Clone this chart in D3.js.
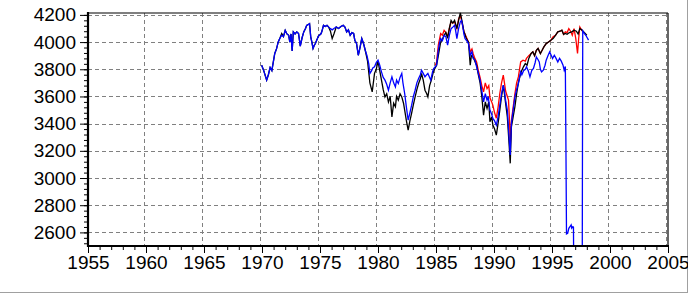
<!DOCTYPE html>
<html>
<head>
<meta charset="utf-8">
<script src="https://cdn.jsdelivr.net/npm/d3@7"></script>
<style>
  body { margin: 0; background: #fff; }
  svg { display: block; }
  .tick text { font-family: "Liberation Sans", Arial, sans-serif; font-size: 19px; fill: #000; }
</style>
</head>
<body>
<svg id="chart" width="688" height="294"></svg>
<script>
// year ticks and value ticks
var yearTicks = [1955, 1960, 1965, 1970, 1975, 1980, 1985, 1990, 1995, 2000, 2005]
var valueTicks = [2600, 2800, 3000, 3200, 3400, 3600, 3800, 4000, 4200]

// [year, value] pairs
var blackSeries = [
  [1969.97,3830],[1970.15,3790],[1970.4,3720],[1970.55,3760],[1970.7,3813],[1970.85,3790],[1971.1,3916],[1971.25,3950],
  [1971.4,4001],[1971.55,4030],[1971.7,4063],[1971.85,4040],[1972.0,4087],[1972.15,4060],[1972.3,4050],[1972.4,4000],
  [1972.5,4060],[1972.6,3935],[1972.7,4075],[1972.85,4060],[1973.0,4075],[1973.15,4063],[1973.3,3970],[1973.45,4030],
  [1973.6,4075],[1973.75,4100],[1973.85,4123],[1974.0,4130],[1974.1,4136],[1974.2,4039],[1974.3,4000],[1974.4,3953],
  [1974.5,3975],[1974.6,3990],[1974.75,4020],[1974.85,4043],[1975.1,4063],[1975.2,4090],[1975.3,4123],[1975.45,4115],
  [1975.6,4123],[1975.75,4110],[1975.9,4080],[1976.05,4026],[1976.2,4060],[1976.4,4111],[1976.6,4100],[1976.8,4115],
  [1977.0,4123],[1977.15,4110],[1977.3,4075],[1977.45,4090],[1977.6,4050],[1977.75,4070],[1977.9,4063],[1978.0,4014],
  [1978.15,3990],[1978.3,3903],[1978.45,3960],[1978.6,4026],[1978.75,3990],[1978.9,3940],[1979.1,3860],[1979.3,3700],
  [1979.5,3634],[1979.7,3770],[1979.85,3800],[1980.0,3860],[1980.15,3790],[1980.3,3720],[1980.45,3650],[1980.6,3597],
  [1980.75,3620],[1980.9,3560],[1981.05,3600],[1981.2,3450],[1981.35,3550],[1981.5,3524],[1981.6,3600],[1981.75,3573],
  [1981.9,3620],[1982.05,3597],[1982.2,3550],[1982.3,3500],[1982.45,3420],[1982.6,3353],[1982.75,3420],[1982.9,3477],
  [1983.05,3540],[1983.2,3597],[1983.35,3650],[1983.5,3695],[1983.65,3730],[1983.75,3769],[1983.9,3720],[1984.05,3646],
  [1984.2,3620],[1984.3,3597],[1984.45,3680],[1984.6,3720],[1984.8,3790],[1985.05,3830],[1985.2,3900],[1985.4,4000],
  [1985.55,4020],[1985.7,4050],[1985.85,4070],[1986.0,4030],[1986.15,4100],[1986.3,4160],[1986.45,4140],[1986.6,4160],
  [1986.8,4100],[1987.0,4180],[1987.1,4215],[1987.25,4150],[1987.4,4080],[1987.6,4030],[1987.8,4000],[1987.95,3830],
  [1988.05,3900],[1988.2,3890],[1988.35,3860],[1988.5,3830],[1988.65,3760],[1988.8,3700],[1988.95,3600],[1989.1,3463],
  [1989.25,3560],[1989.4,3512],[1989.55,3560],[1989.65,3414],[1989.8,3450],[1989.9,3390],[1990.05,3360],[1990.2,3316],
  [1990.35,3400],[1990.5,3500],[1990.65,3600],[1990.8,3680],[1990.9,3620],[1991.0,3550],[1991.15,3450],[1991.3,3250],
  [1991.4,3108],[1991.5,3377],[1991.65,3450],[1991.8,3524],[1991.95,3620],[1992.1,3700],[1992.3,3769],[1992.4,3793],
  [1992.55,3820],[1992.7,3842],[1992.85,3830],[1993.0,3880],[1993.2,3916],[1993.35,3928],[1993.5,3900],[1993.65,3940],
  [1993.8,3953],[1994.0,3916],[1994.15,3940],[1994.3,3965],[1994.5,3989],[1994.7,4000],[1994.9,4014],[1995.1,4026],
  [1995.3,4050],[1995.5,4075],[1995.7,4080],[1995.85,4087],[1996.0,4057],[1996.15,4063],[1996.3,4057],[1996.5,4070],
  [1996.7,4075],[1996.9,4087],[1997.1,4080],[1997.25,4060],[1997.4,4100],[1997.6,4087],[1997.8,4070],[1998.0,4050]
]

var redSeries = [
  [1984.95,3830],[1985.05,3854],[1985.2,3977],[1985.3,4020],[1985.4,4063],[1985.55,4050],[1985.7,4087],[1985.85,4070],
  [1986.0,4039],[1986.15,4100],[1986.3,4148],[1986.45,4140],[1986.6,4150],[1986.8,4100],[1986.95,4170],[1987.1,4197],
  [1987.25,4140],[1987.4,4080],[1987.6,4040],[1987.8,4000],[1987.95,3928],[1988.1,3950],[1988.2,3916],[1988.35,3880],
  [1988.5,3854],[1988.65,3790],[1988.8,3740],[1988.95,3680],[1989.1,3634],[1989.25,3700],[1989.4,3658],[1989.55,3680],
  [1989.65,3590],[1989.8,3560],[1989.9,3536],[1990.05,3480],[1990.2,3440],[1990.35,3520],[1990.5,3622],[1990.65,3700],
  [1990.8,3757],[1990.9,3700],[1991.0,3640],[1991.15,3600],[1991.25,3573],[1991.35,3400],[1991.4,3230],[1991.5,3420],
  [1991.65,3520],[1991.8,3620],[1991.95,3700],[1992.1,3744],[1992.3,3854],[1992.5,3867],[1992.7,3860],[1992.8,3880],
  [1993.0,3900],[1993.2,3916],[1993.35,3928],[1993.5,3900],[1993.65,3940],[1993.8,3953],[1994.0,3916],[1994.15,3940],
  [1994.3,3965],[1994.5,3989],[1994.7,4000],[1994.9,4014],[1995.1,4039],[1995.3,4050],[1995.5,4075],[1995.7,4080],
  [1995.85,4087],[1996.0,4057],[1996.15,4075],[1996.3,4070],[1996.45,4099],[1996.6,4080],[1996.75,4050],[1996.9,4099],
  [1997.05,4026],[1997.2,3916],[1997.3,4026],[1997.4,4111],[1997.55,4090],[1997.62,4080]
]

var blueSeries = [
  [1969.97,3830],[1970.15,3790],[1970.4,3720],[1970.55,3760],[1970.7,3813],[1970.85,3790],[1971.1,3916],[1971.25,3950],
  [1971.4,4001],[1971.55,4030],[1971.7,4050],[1971.85,4040],[1972.0,4087],[1972.15,4060],[1972.3,4050],[1972.4,4000],
  [1972.5,4060],[1972.6,3935],[1972.7,4075],[1972.85,4060],[1973.0,4075],[1973.15,4063],[1973.3,3970],[1973.45,4030],
  [1973.6,4075],[1973.75,4100],[1973.85,4123],[1974.0,4130],[1974.1,4136],[1974.2,4039],[1974.3,4000],[1974.4,3953],
  [1974.5,3975],[1974.6,3990],[1974.75,4020],[1974.85,4043],[1975.1,4063],[1975.2,4090],[1975.3,4123],[1975.45,4115],
  [1975.6,4123],[1975.75,4110],[1975.9,4099],[1976.05,4090],[1976.2,4100],[1976.4,4111],[1976.6,4100],[1976.8,4115],
  [1977.0,4123],[1977.15,4110],[1977.3,4075],[1977.45,4090],[1977.6,4050],[1977.75,4070],[1977.9,4063],[1978.0,4014],
  [1978.15,3990],[1978.3,3903],[1978.45,3960],[1978.6,4026],[1978.75,3990],[1978.9,3940],[1979.05,3900],[1979.2,3842],
  [1979.3,3769],[1979.45,3790],[1979.55,3810],[1979.7,3818],[1979.85,3850],[1980.0,3867],[1980.15,3830],[1980.3,3781],
  [1980.45,3740],[1980.6,3720],[1980.75,3690],[1980.9,3646],[1981.05,3700],[1981.2,3744],[1981.35,3700],[1981.5,3670],
  [1981.6,3720],[1981.75,3695],[1981.9,3740],[1982.05,3769],[1982.15,3700],[1982.3,3622],[1982.45,3520],[1982.6,3426],
  [1982.75,3480],[1982.9,3536],[1983.05,3600],[1983.2,3646],[1983.35,3700],[1983.5,3732],[1983.65,3760],[1983.75,3793],
  [1983.9,3770],[1984.05,3744],[1984.2,3760],[1984.3,3769],[1984.45,3740],[1984.55,3720],[1984.7,3780],[1984.8,3806],
  [1985.05,3830],[1985.2,3940],[1985.3,3990],[1985.4,4026],[1985.55,4010],[1985.7,4050],[1985.85,4040],[1986.0,3977],
  [1986.15,4050],[1986.3,4099],[1986.45,4110],[1986.6,4123],[1986.7,4080],[1986.8,4026],[1986.95,4100],[1987.1,4150],
  [1987.2,4160],[1987.3,4120],[1987.4,4060],[1987.5,4026],[1987.65,4010],[1987.8,3989],[1987.95,3903],[1988.1,3930],
  [1988.2,3880],[1988.35,3870],[1988.5,3818],[1988.65,3770],[1988.8,3720],[1988.95,3640],[1989.1,3560],[1989.25,3620],
  [1989.4,3573],[1989.5,3600],[1989.65,3500],[1989.8,3470],[1989.9,3438],[1990.05,3420],[1990.2,3390],[1990.35,3450],
  [1990.5,3536],[1990.65,3620],[1990.8,3683],[1990.9,3640],[1991.0,3573],[1991.15,3500],[1991.3,3300],[1991.4,3169],
  [1991.5,3400],[1991.65,3500],[1991.8,3597],[1991.95,3650],[1992.1,3695],[1992.2,3740],[1992.3,3781],[1992.4,3760],
  [1992.55,3790],[1992.7,3800],[1992.8,3818],[1992.95,3790],[1993.1,3744],[1993.25,3790],[1993.4,3806],[1993.55,3850],
  [1993.65,3891],[1993.8,3870],[1993.9,3854],[1994.0,3800],[1994.1,3781],[1994.25,3793],[1994.4,3830],[1994.5,3867],
  [1994.65,3900],[1994.8,3928],[1994.95,3900],[1995.05,3880],[1995.2,3903],[1995.35,3880],[1995.5,3854],[1995.65,3880],
  [1995.8,3860],[1995.95,3830],[1996.05,3793],[1996.15,3820],[1996.2,3243],[1996.25,2589],[1996.35,2594],[1996.45,2630],
  [1996.55,2643],[1996.65,2655],[1996.7,2631],[1996.8,2643],[1996.85,2640],[1996.9,2000],[1997.3,2000],[1997.6,2000],
  [1997.62,2920],[1997.65,4082],[1997.8,4063],[1997.95,4045],[1998.15,4014]
]

var svg = d3.select('#chart')

var x = d3.scaleLinear().domain([1955, 2005]).range([88, 668])
var y = d3.scaleLinear().domain([2500, 4214]).range([246, 13])

var plotLeft = x.range()[0], plotRight = x.range()[1]
var plotTop = y.range()[1], plotBottom = y.range()[0]

// window edge
svg.append('line').attr('x1', 687.5).attr('x2', 687.5).attr('y1', 0).attr('y2', 293)
  .attr('stroke', '#a0a0a0').attr('stroke-width', 1)
svg.append('line').attr('x1', 0).attr('x2', 688).attr('y1', 292.5).attr('y2', 292.5)
  .attr('stroke', '#a0a0a0').attr('stroke-width', 1)

// grid
var grid = svg.append('g').attr('class', 'grid')
  .attr('stroke', '#808080').attr('stroke-dasharray', '4,3').attr('stroke-width', 1)
grid.selectAll('.vg').data(yearTicks.slice(1)).enter().append('line')
  .attr('x1', d => Math.round(x(d)) - 1.5).attr('x2', d => Math.round(x(d)) - 1.5)
  .attr('y1', plotTop).attr('y2', plotBottom)
grid.selectAll('.hg').data(valueTicks).enter().append('line')
  .attr('x1', plotLeft).attr('x2', plotRight)
  .attr('y1', d => Math.round(y(d)) + 0.5).attr('y2', d => Math.round(y(d)) + 0.5)

// series
svg.append('clipPath').attr('id', 'clip').append('rect')
  .attr('x', plotLeft).attr('y', plotTop - 2)
  .attr('width', plotRight - plotLeft).attr('height', plotBottom - plotTop + 2)

var line = d3.line().x(d => x(d[0])).y(d => y(d[1]))
var plot = svg.append('g').attr('clip-path', 'url(#clip)')
var series = [
  { data: redSeries, color: '#ff0000' },
  { data: blackSeries, color: '#000000' },
  { data: blueSeries, color: '#0000ff' }
]
plot.selectAll('path').data(series).enter().append('path')
  .attr('d', d => line(d.data))
  .attr('fill', 'none')
  .attr('stroke', d => d.color)
  .attr('stroke-width', 1.3)

// frame
svg.append('line').attr('x1', plotLeft).attr('x2', plotRight).attr('y1', plotTop).attr('y2', plotTop)
  .attr('stroke', '#000').attr('stroke-width', 1.2)
svg.append('line').attr('x1', plotRight).attr('x2', plotRight).attr('y1', plotTop).attr('y2', plotBottom)
  .attr('stroke', '#000').attr('stroke-width', 1.2)

// axes
var xAxis = d3.axisBottom(x).tickValues(yearTicks).tickFormat(d3.format('d')).tickSize(7).tickPadding(3)
var xMinor = d3.axisBottom(x).tickValues(d3.range(1955, 2006)).tickFormat('').tickSize(4)
var yAxis = d3.axisLeft(y).tickValues(valueTicks).tickFormat(d3.format('d')).tickSize(8).tickPadding(4)
var yMinor = d3.axisLeft(y).tickValues(d3.range(2520, 4201, 40)).tickFormat('').tickSize(4)

function styleAxis(g) {
  g.select('.domain').remove()
  g.selectAll('.tick line').attr('stroke', '#000')
}

svg.append('g').attr('transform', 'translate(0,' + plotBottom + ')').call(xMinor).call(styleAxis)
svg.append('g').attr('transform', 'translate(0,' + plotBottom + ')').call(xAxis).call(styleAxis)
svg.append('g').attr('transform', 'translate(' + plotLeft + ',0)').call(yMinor).call(styleAxis)
svg.append('g').attr('transform', 'translate(' + plotLeft + ',0)').call(yAxis).call(styleAxis)

svg.append('line').attr('x1', plotLeft).attr('x2', plotLeft).attr('y1', plotTop - 1).attr('y2', plotBottom + 1)
  .attr('stroke', '#000').attr('stroke-width', 2.2)
svg.append('line').attr('x1', plotLeft - 1).attr('x2', plotRight + 1).attr('y1', plotBottom).attr('y2', plotBottom)
  .attr('stroke', '#000').attr('stroke-width', 2.2)
</script>
</body>
</html>
